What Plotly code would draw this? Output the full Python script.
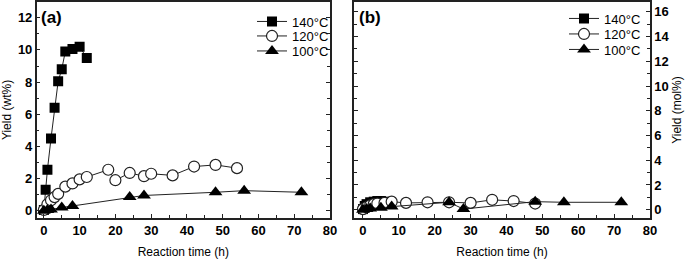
import plotly.graph_objects as go

# ---- Panel (a): Yield (wt%) ----
a140_x = [0, 0.5, 1, 2, 3, 4, 5, 6, 8, 10, 12]
a140_y = [0.05, 1.3, 2.55, 4.5, 6.4, 8.05, 8.8, 9.9, 10.05, 10.2, 9.5]
a120_x = [0, 1, 2, 3, 4, 6, 8, 10, 12, 18, 20, 24, 28, 30, 36, 42, 48, 54]
a120_y = [0.05, 0.4, 0.65, 0.85, 1.05, 1.5, 1.7, 1.95, 2.1, 2.55, 1.9, 2.35, 2.15, 2.3, 2.2, 2.75, 2.85, 2.65]
a100_x = [0, 1, 2, 5, 8, 24, 28, 48, 56, 72]
a100_y = [0.0, 0.05, 0.08, 0.2, 0.3, 0.85, 0.95, 1.15, 1.25, 1.15]

# ---- Panel (b): Yield (mol%) ----
b140_x = [0, 0.5, 1, 2, 3, 4, 5, 6]
b140_y = [0.05, 0.3, 0.45, 0.6, 0.65, 0.7, 0.7, 0.65]
b120_x = [0, 1, 2, 3, 4, 6, 8, 12, 18, 24, 30, 36, 42, 48]
b120_y = [0.05, 0.2, 0.35, 0.45, 0.5, 0.55, 0.65, 0.55, 0.6, 0.6, 0.55, 0.8, 0.7, 0.5]
b100_x = [0, 1, 2, 5, 8, 24, 28, 48, 56, 72]
b100_y = [0.0, 0.05, 0.1, 0.15, 0.25, 0.6, 0.05, 0.65, 0.6, 0.6]

series_names = ["140°C", "120°C", "100°C"]
x_ticks = [0, 10, 20, 30, 40, 50, 60, 70, 80]
ya_ticks = [0, 2, 4, 6, 8, 10, 12]
yb_ticks = [0, 2, 4, 6, 8, 10, 12, 14, 16]

W, H = 685, 264
LC = "#222222"
marker_styles = [
    dict(symbol="square", size=10, color="black", line=dict(width=0)),
    dict(symbol="circle", size=11, color="white", line=dict(width=1.2, color="#222")),
    dict(symbol="triangle-up", size=12, color="black", line=dict(width=0)),
]

# legend rows (one legend per row so the rows can be as tight as the original)
a_rows = [21.5, 36, 51]
b_rows = [18.5, 34, 49.5]
a_legx, b_legx = 252, 564

fig = go.Figure()
a_data = [(a140_x, a140_y), (a120_x, a120_y), (a100_x, a100_y)]
b_data = [(b140_x, b140_y), (b120_x, b120_y), (b100_x, b100_y)]

legend_defs = {}
for p, (data, xa, ya, rows, lx) in enumerate([(a_data, "x", "y", a_rows, a_legx),
                                                (b_data, "x2", "y2", b_rows, b_legx)]):
    for i, (xs, ys) in enumerate(data):
        n = p * 3 + i + 1
        lname = "legend" if n == 1 else f"legend{n}"
        fig.add_trace(go.Scatter(x=xs, y=ys, mode="lines+markers", name=series_names[i],
                                 line=dict(color=LC, width=1), marker=marker_styles[i],
                                 xaxis=xa, yaxis=ya, legend=lname))
        legend_defs[lname] = dict(x=lx / W, y=1 - rows[i] / H, xanchor="left", yanchor="middle",
                                  bgcolor="rgba(0,0,0,0)",
                                  font=dict(family="Liberation Sans", size=13, color="black"),
                                  itemwidth=30)

tickfont = dict(family="Liberation Sans", size=13, color="black", weight="bold")
titlefont = dict(family="Liberation Sans", size=12, color="black")

def xax(domain, rng, anchor):
    return dict(domain=domain, range=rng, anchor=anchor, tickvals=x_ticks, automargin=False,
                ticks="inside", ticklen=4, tickwidth=1.2, tickcolor=LC,
                minor=dict(dtick=5, ticks="inside", ticklen=3, tickwidth=1, tickcolor=LC),
                showline=True, linecolor=LC, linewidth=1.5, mirror=True,
                showgrid=False, zeroline=False, tickfont=tickfont,
                title=dict(text="Reaction time (h)", font=titlefont, standoff=10))

def yax(domain, rng, anchor, ticks, side, title):
    return dict(domain=domain, range=rng, anchor=anchor, tickvals=ticks, side=side, automargin=False,
                ticks="inside", ticklen=4, tickwidth=1.2, tickcolor=LC,
                minor=dict(dtick=1, ticks="inside", ticklen=3, tickwidth=1, tickcolor=LC),
                showline=True, linecolor=LC, linewidth=1.5, mirror="ticks",
                showgrid=False, zeroline=False, tickfont=tickfont,
                title=dict(text=title, font=titlefont, standoff=4))

ydom = [(H - 218) / H, (H - 2) / H]
fig.update_layout(
    width=W, height=H, margin=dict(l=0, r=0, t=0, b=0, autoexpand=False),
    paper_bgcolor="white", plot_bgcolor="white",
    xaxis=xax([36.7 / W, 330 / W], [-2, 80], "y"),
    yaxis=yax(ydom, [-0.45, 12.98], "x", ya_ticks, "left", "Yield (wt%)"),
    xaxis2=xax([354 / W, 650 / W], [-2.5, 80], "y2"),
    yaxis2=yax(ydom, [-0.67, 16.79], "x2", yb_ticks, "right", "Yield (mol%)"),
    showlegend=True,
    annotations=[
        dict(text="(a)", x=39 / W, y=1 - 17 / H, xref="paper", yref="paper",
             xanchor="left", yanchor="middle", showarrow=False,
             font=dict(family="Liberation Sans", size=17, color="black", weight="bold")),
        dict(text="(b)", x=357 / W, y=1 - 17 / H, xref="paper", yref="paper",
             xanchor="left", yanchor="middle", showarrow=False,
             font=dict(family="Liberation Sans", size=17, color="black", weight="bold")),
    ],
    **legend_defs,
)

fig.write_html("out.html", config={"displayModeBar": False},
               post_script="document.body.style.margin='0';document.body.style.overflow='hidden';")
